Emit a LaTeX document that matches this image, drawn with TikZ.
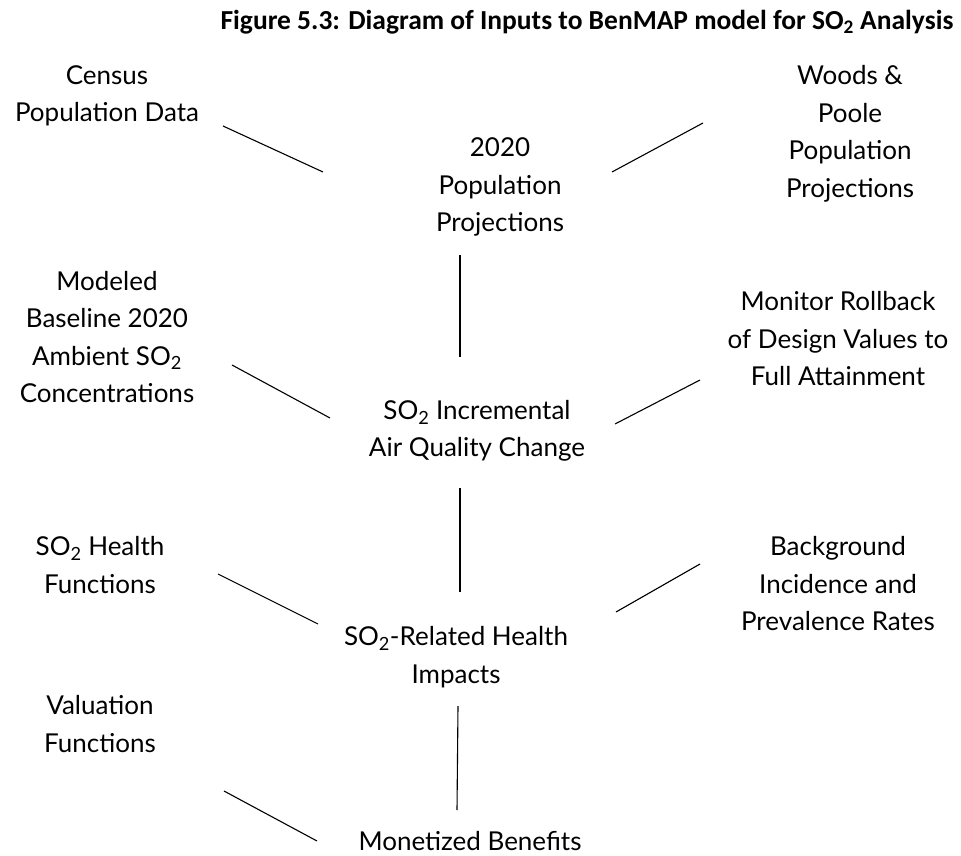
\documentclass[tikz,border=0pt]{standalone}
\usepackage{fontspec}
\setmainfont{Lato}
\newfontfamily\titlefont{Carlito}
\usetikzlibrary{positioning}

\tikzset{
  item/.style={align=center, font=\fontsize{26}{37.5}\selectfont, inner sep=0pt},
  link/.style={line width=1.1pt}
}

\begin{document}
\begin{tikzpicture}[x=1pt,y=-1pt]
            \useasboundingbox (0,0) rectangle (961,856);
            \node[font=\titlefont\bfseries\fontsize{27.5}{30}\selectfont, inner sep=0pt] (title) at (587,22) {Figure 5.3: Diagram of Inputs to BenMAP model for SO\textsubscript{2} Analysis};

            \node[item] (census) at (107,96) {Census\\Population Data};
            \node[item] (woods) at (850,134) {Woods \&\\Poole\\Population\\Projections};
            \node[item] (pop) at (500,187) {2020\\Population\\Projections};

            \node[item] (modeled) at (107,337) {Modeled\\Baseline 2020\\Ambient SO\textsubscript{2}\\Concentrations};
            \node[item] (monitor) at (838,339) {Monitor Rollback\\of Design Values to\\Full Attainment};
            \node[item] (incr) at (477,431) {SO\textsubscript{2} Incremental\\Air Quality Change};

            \node[item] (hfun) at (100,565) {SO\textsubscript{2} Health\\Functions};
            \node[item] (bginc) at (838,584) {Background\\Incidence and\\Prevalence Rates};
            \node[item] (impacts) at (456,657) {SO\textsubscript{2}-Related Health\\Impacts};

            \node[item] (valfun) at (100,724) {Valuation\\Functions};
            \node[item] (benefits) at (470,841) {Monetized Benefits};

            % line ends
            \coordinate (census-e) at (223,126);
            \coordinate (pop-w) at (323,172);
            \coordinate (woods-w) at (703,123);
            \coordinate (pop-e) at (612,172);
            \coordinate (pop-s) at (460,255);
            \coordinate (incr-n) at (460,357);
            \coordinate (modeled-e) at (232,365);
            \coordinate (incr-w) at (330,418);
            \coordinate (monitor-w) at (700,380);
            \coordinate (incr-e) at (615,424);
            \coordinate (incr-s) at (460,488);
            \coordinate (impacts-n) at (460,592);
            \coordinate (hfun-e) at (218,574);
            \coordinate (impacts-w) at (318,624);
            \coordinate (bginc-w) at (700,564);
            \coordinate (impacts-e) at (616,612);
            \coordinate (impacts-s) at (458,706);
            \coordinate (benefits-n) at (457,810);
            \coordinate (valfun-e) at (224,791);
            \coordinate (benefits-w) at (317,841);

            \draw[link] (census-e) -- (pop-w);
            \draw[link] (woods-w) -- (pop-e);
            \draw[link] (pop-s) -- (incr-n);
            \draw[link] (modeled-e) -- (incr-w);
            \draw[link] (monitor-w) -- (incr-e);
            \draw[link] (incr-s) -- (impacts-n);
            \draw[link] (hfun-e) -- (impacts-w);
            \draw[link] (bginc-w) -- (impacts-e);
            \draw[link] (impacts-s) -- (benefits-n);
            \draw[link] (valfun-e) -- (benefits-w);
        \end{tikzpicture}
\end{document}
